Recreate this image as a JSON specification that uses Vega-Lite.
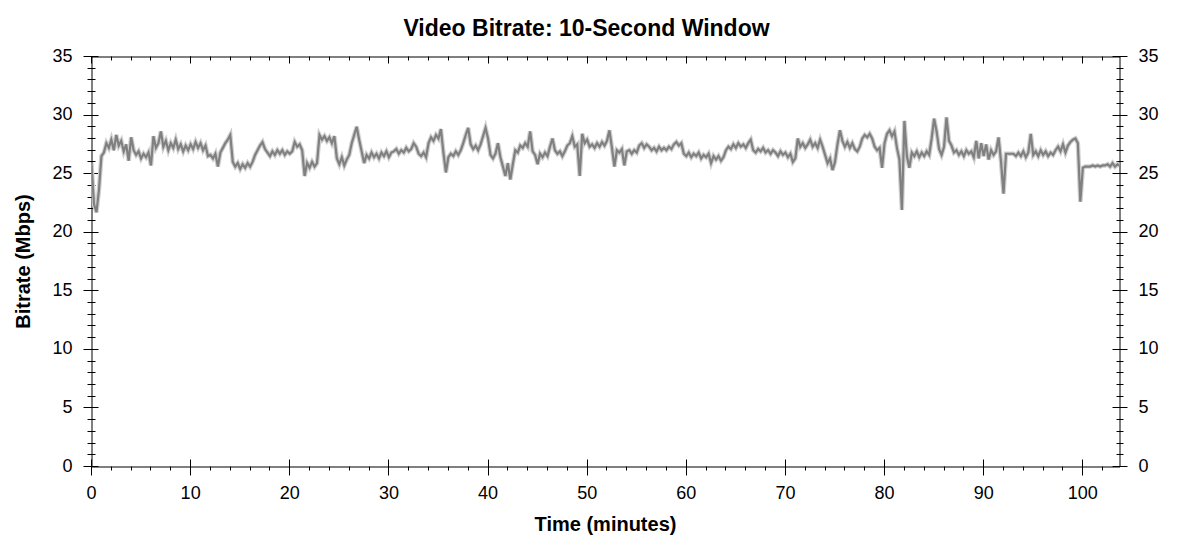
{
  "$schema": "https://vega.github.io/schema/vega-lite/v6.json",
  "width": 1028,
  "height": 410,
  "autosize": {"type": "none"},
  "padding": {"left": 91.5, "top": 56.5, "right": 58.5, "bottom": 85.5},
  "background": "white",
  "title": {
    "text": "Video Bitrate: 10-Second Window",
    "font": "Liberation Sans",
    "fontSize": 23,
    "fontWeight": "bold",
    "color": "#000000",
    "anchor": "middle",
    "frame": "bounds",
    "offset": 7
  },
  "config": {
    "view": {"stroke": "#000000", "strokeWidth": 1},
    "axis": {
      "domain": false,
      "grid": false,
      "translate": 0,
      "tickColor": "#000000",
      "tickWidth": 1,
      "labelColor": "#000000",
      "labelFont": "Liberation Sans",
      "labelFontSize": 18,
      "labelFlush": false,
      "titleFont": "Liberation Sans",
      "titleFontSize": 20,
      "titleFontWeight": "bold",
      "titleColor": "#000000"
    }
  },
  "data": {
    "values": [
      {"t":0,"v":25.9},{"t":0.25,"v":22.4},{"t":0.5,"v":21.7},{"t":0.75,"v":23.6},
      {"t":1,"v":26.5},{"t":1.25,"v":26.8},{"t":1.5,"v":27.6},{"t":1.75,"v":27.2},
      {"t":2,"v":27.9},{"t":2.25,"v":27.0},{"t":2.5,"v":28.3},{"t":2.75,"v":27.4},
      {"t":3,"v":27.8},{"t":3.25,"v":26.9},{"t":3.5,"v":27.5},{"t":3.75,"v":26.1},
      {"t":4,"v":28.1},{"t":4.25,"v":27.0},{"t":4.5,"v":26.6},{"t":4.75,"v":26.9},
      {"t":5,"v":26.3},{"t":5.25,"v":26.7},{"t":5.5,"v":26.4},{"t":5.75,"v":26.8},
      {"t":6,"v":25.7},{"t":6.25,"v":28.2},{"t":6.5,"v":27.2},{"t":6.75,"v":27.6},
      {"t":7,"v":28.6},{"t":7.25,"v":27.3},{"t":7.5,"v":27.8},{"t":7.75,"v":27.0},
      {"t":8,"v":27.6},{"t":8.25,"v":27.2},{"t":8.5,"v":27.9},{"t":8.75,"v":27.1},
      {"t":9,"v":27.5},{"t":9.25,"v":26.9},{"t":9.5,"v":27.4},{"t":9.75,"v":27.0},
      {"t":10,"v":27.5},{"t":10.25,"v":27.1},{"t":10.5,"v":27.7},{"t":10.75,"v":27.2},
      {"t":11,"v":27.6},{"t":11.25,"v":27.0},{"t":11.5,"v":27.4},{"t":11.75,"v":26.5},
      {"t":12,"v":26.6},{"t":12.25,"v":26.3},{"t":12.5,"v":26.7},{"t":12.75,"v":25.6},
      {"t":13,"v":26.8},{"t":13.25,"v":27.2},{"t":13.5,"v":27.6},{"t":13.75,"v":27.9},
      {"t":14,"v":28.3},{"t":14.25,"v":26.0},{"t":14.5,"v":25.6},{"t":14.75,"v":25.9},
      {"t":15,"v":25.4},{"t":15.25,"v":25.8},{"t":15.5,"v":25.5},{"t":15.75,"v":25.9},
      {"t":16,"v":25.6},{"t":16.25,"v":26.0},{"t":16.5,"v":26.6},{"t":16.75,"v":27.0},
      {"t":17,"v":27.4},{"t":17.25,"v":27.7},{"t":17.5,"v":27.1},{"t":17.75,"v":26.8},
      {"t":18,"v":26.5},{"t":18.25,"v":26.9},{"t":18.5,"v":26.6},{"t":18.75,"v":27.0},
      {"t":19,"v":26.7},{"t":19.25,"v":27.0},{"t":19.5,"v":26.6},{"t":19.75,"v":26.9},
      {"t":20,"v":26.7},{"t":20.25,"v":26.9},{"t":20.5,"v":27.7},{"t":20.75,"v":27.3},
      {"t":21,"v":27.5},{"t":21.25,"v":27.0},{"t":21.5,"v":24.8},{"t":21.75,"v":25.9},
      {"t":22,"v":25.5},{"t":22.25,"v":26.0},{"t":22.5,"v":25.6},{"t":22.75,"v":25.9},
      {"t":23,"v":28.3},{"t":23.25,"v":27.9},{"t":23.5,"v":28.2},{"t":23.75,"v":27.8},
      {"t":24,"v":28.1},{"t":24.25,"v":27.6},{"t":24.5,"v":28.2},{"t":24.75,"v":26.3},
      {"t":25,"v":25.8},{"t":25.25,"v":26.4},{"t":25.5,"v":25.7},{"t":25.75,"v":26.2},
      {"t":26,"v":26.6},{"t":26.25,"v":27.6},{"t":26.5,"v":28.3},{"t":26.75,"v":29.0},
      {"t":27,"v":27.9},{"t":27.25,"v":26.9},{"t":27.5,"v":25.9},{"t":27.75,"v":26.6},
      {"t":28,"v":26.3},{"t":28.25,"v":26.8},{"t":28.5,"v":26.4},{"t":28.75,"v":26.7},
      {"t":29,"v":26.3},{"t":29.25,"v":26.8},{"t":29.5,"v":26.5},{"t":29.75,"v":26.9},
      {"t":30,"v":26.4},{"t":30.25,"v":26.8},{"t":30.5,"v":26.9},{"t":30.75,"v":27.1},
      {"t":31,"v":26.7},{"t":31.25,"v":27.0},{"t":31.5,"v":26.8},{"t":31.75,"v":27.2},
      {"t":32,"v":26.9},{"t":32.25,"v":27.1},{"t":32.5,"v":27.6},{"t":32.75,"v":27.3},
      {"t":33,"v":26.7},{"t":33.25,"v":26.5},{"t":33.5,"v":26.8},{"t":33.75,"v":26.4},
      {"t":34,"v":27.6},{"t":34.25,"v":28.1},{"t":34.5,"v":27.8},{"t":34.75,"v":28.3},
      {"t":35,"v":28.0},{"t":35.25,"v":28.8},{"t":35.5,"v":26.8},{"t":35.75,"v":25.1},
      {"t":36,"v":26.4},{"t":36.25,"v":26.7},{"t":36.5,"v":26.5},{"t":36.75,"v":26.9},
      {"t":37,"v":26.6},{"t":37.25,"v":27.0},{"t":37.5,"v":27.6},{"t":37.75,"v":28.3},
      {"t":38,"v":28.9},{"t":38.25,"v":27.5},{"t":38.5,"v":27.1},{"t":38.75,"v":27.4},
      {"t":39,"v":27.0},{"t":39.25,"v":27.5},{"t":39.5,"v":28.2},{"t":39.75,"v":28.9},
      {"t":40,"v":28.0},{"t":40.25,"v":26.6},{"t":40.5,"v":26.3},{"t":40.75,"v":26.7},
      {"t":41,"v":27.6},{"t":41.25,"v":26.4},{"t":41.5,"v":25.6},{"t":41.75,"v":24.8},
      {"t":42,"v":25.9},{"t":42.25,"v":24.5},{"t":42.5,"v":25.8},{"t":42.75,"v":27.0},
      {"t":43,"v":26.8},{"t":43.25,"v":27.4},{"t":43.5,"v":27.2},{"t":43.75,"v":27.6},
      {"t":44,"v":27.3},{"t":44.25,"v":28.6},{"t":44.5,"v":26.9},{"t":44.75,"v":26.6},
      {"t":45,"v":25.8},{"t":45.25,"v":26.7},{"t":45.5,"v":26.4},{"t":45.75,"v":26.8},
      {"t":46,"v":26.5},{"t":46.25,"v":27.3},{"t":46.5,"v":28.0},{"t":46.75,"v":27.0},
      {"t":47,"v":26.7},{"t":47.25,"v":26.9},{"t":47.5,"v":26.5},{"t":47.75,"v":26.9},
      {"t":48,"v":27.4},{"t":48.25,"v":27.6},{"t":48.5,"v":28.2},{"t":48.75,"v":27.3},
      {"t":49,"v":27.5},{"t":49.25,"v":24.8},{"t":49.5,"v":28.4},{"t":49.75,"v":27.6},
      {"t":50,"v":27.9},{"t":50.25,"v":27.3},{"t":50.5,"v":27.5},{"t":50.75,"v":27.2},
      {"t":51,"v":27.6},{"t":51.25,"v":27.3},{"t":51.5,"v":27.7},{"t":51.75,"v":27.4},
      {"t":52,"v":27.8},{"t":52.25,"v":28.7},{"t":52.5,"v":27.2},{"t":52.75,"v":25.6},
      {"t":53,"v":27.0},{"t":53.25,"v":26.8},{"t":53.5,"v":27.1},{"t":53.75,"v":25.7},
      {"t":54,"v":26.9},{"t":54.25,"v":27.0},{"t":54.5,"v":26.7},{"t":54.75,"v":27.0},
      {"t":55,"v":26.8},{"t":55.25,"v":27.4},{"t":55.5,"v":27.6},{"t":55.75,"v":27.2},
      {"t":56,"v":27.5},{"t":56.25,"v":27.3},{"t":56.5,"v":27.0},{"t":56.75,"v":27.2},
      {"t":57,"v":26.9},{"t":57.25,"v":27.3},{"t":57.5,"v":27.0},{"t":57.75,"v":27.2},
      {"t":58,"v":27.0},{"t":58.25,"v":27.3},{"t":58.5,"v":27.1},{"t":58.75,"v":27.5},
      {"t":59,"v":27.7},{"t":59.25,"v":27.4},{"t":59.5,"v":27.6},{"t":59.75,"v":26.7},
      {"t":60,"v":26.5},{"t":60.25,"v":26.8},{"t":60.5,"v":26.4},{"t":60.75,"v":26.7},
      {"t":61,"v":26.5},{"t":61.25,"v":26.8},{"t":61.5,"v":26.3},{"t":61.75,"v":26.6},
      {"t":62,"v":26.4},{"t":62.25,"v":26.7},{"t":62.5,"v":25.9},{"t":62.75,"v":26.5},
      {"t":63,"v":26.2},{"t":63.25,"v":26.5},{"t":63.5,"v":26.1},{"t":63.75,"v":26.4},
      {"t":64,"v":27.0},{"t":64.25,"v":27.3},{"t":64.5,"v":27.1},{"t":64.75,"v":27.5},
      {"t":65,"v":27.2},{"t":65.25,"v":27.6},{"t":65.5,"v":27.3},{"t":65.75,"v":27.5},
      {"t":66,"v":27.2},{"t":66.25,"v":27.6},{"t":66.5,"v":27.9},{"t":66.75,"v":27.0},
      {"t":67,"v":26.8},{"t":67.25,"v":27.1},{"t":67.5,"v":26.9},{"t":67.75,"v":27.2},
      {"t":68,"v":26.8},{"t":68.25,"v":27.0},{"t":68.5,"v":26.7},{"t":68.75,"v":27.0},
      {"t":69,"v":26.8},{"t":69.25,"v":26.5},{"t":69.5,"v":26.9},{"t":69.75,"v":26.6},
      {"t":70,"v":26.8},{"t":70.25,"v":26.4},{"t":70.5,"v":26.7},{"t":70.75,"v":26.0},
      {"t":71,"v":26.3},{"t":71.25,"v":28.0},{"t":71.5,"v":27.3},{"t":71.75,"v":27.6},
      {"t":72,"v":27.2},{"t":72.25,"v":27.5},{"t":72.5,"v":27.9},{"t":72.75,"v":27.3},
      {"t":73,"v":27.6},{"t":73.25,"v":27.2},{"t":73.5,"v":27.9},{"t":73.75,"v":27.3},
      {"t":74,"v":26.6},{"t":74.25,"v":25.9},{"t":74.5,"v":26.3},{"t":74.75,"v":25.3},
      {"t":75,"v":26.0},{"t":75.25,"v":27.5},{"t":75.5,"v":28.7},{"t":75.75,"v":27.8},
      {"t":76,"v":27.3},{"t":76.25,"v":27.7},{"t":76.5,"v":27.2},{"t":76.75,"v":27.6},
      {"t":77,"v":27.1},{"t":77.25,"v":26.9},{"t":77.5,"v":27.3},{"t":77.75,"v":28.0},
      {"t":78,"v":28.3},{"t":78.25,"v":28.1},{"t":78.5,"v":28.4},{"t":78.75,"v":28.0},
      {"t":79,"v":27.3},{"t":79.25,"v":27.0},{"t":79.5,"v":27.2},{"t":79.75,"v":25.5},
      {"t":80,"v":27.6},{"t":80.25,"v":28.4},{"t":80.5,"v":28.7},{"t":80.75,"v":28.2},
      {"t":81,"v":28.6},{"t":81.25,"v":27.2},{"t":81.5,"v":26.2},{"t":81.75,"v":21.9},
      {"t":82,"v":29.5},{"t":82.25,"v":26.5},{"t":82.5,"v":25.5},{"t":82.75,"v":26.8},
      {"t":83,"v":26.5},{"t":83.25,"v":26.9},{"t":83.5,"v":26.4},{"t":83.75,"v":26.8},
      {"t":84,"v":26.5},{"t":84.25,"v":26.9},{"t":84.5,"v":26.6},{"t":84.75,"v":28.0},
      {"t":85,"v":29.7},{"t":85.25,"v":28.6},{"t":85.5,"v":27.1},{"t":85.75,"v":26.6},
      {"t":86,"v":27.3},{"t":86.25,"v":29.8},{"t":86.5,"v":27.8},{"t":86.75,"v":27.4},
      {"t":87,"v":26.8},{"t":87.25,"v":27.0},{"t":87.5,"v":26.6},{"t":87.75,"v":26.9},
      {"t":88,"v":26.5},{"t":88.25,"v":27.0},{"t":88.5,"v":26.7},{"t":88.75,"v":26.9},
      {"t":89,"v":26.4},{"t":89.25,"v":27.8},{"t":89.5,"v":26.3},{"t":89.75,"v":27.6},
      {"t":90,"v":26.5},{"t":90.25,"v":27.5},{"t":90.5,"v":26.2},{"t":90.75,"v":27.0},
      {"t":91,"v":26.6},{"t":91.25,"v":26.9},{"t":91.5,"v":28.1},{"t":91.75,"v":26.0},
      {"t":92,"v":23.3},{"t":92.25,"v":26.7},{"t":92.5,"v":26.7},{"t":92.75,"v":26.7},
      {"t":93,"v":26.7},{"t":93.25,"v":26.5},{"t":93.5,"v":26.8},{"t":93.75,"v":26.5},
      {"t":94,"v":26.9},{"t":94.25,"v":26.4},{"t":94.5,"v":26.8},{"t":94.75,"v":28.4},
      {"t":95,"v":26.6},{"t":95.25,"v":26.9},{"t":95.5,"v":26.5},{"t":95.75,"v":27.0},
      {"t":96,"v":26.6},{"t":96.25,"v":26.9},{"t":96.5,"v":26.5},{"t":96.75,"v":26.8},
      {"t":97,"v":26.6},{"t":97.25,"v":27.0},{"t":97.5,"v":27.3},{"t":97.75,"v":26.9},
      {"t":98,"v":27.5},{"t":98.25,"v":26.8},{"t":98.5,"v":27.4},{"t":98.75,"v":27.7},
      {"t":99,"v":27.9},{"t":99.25,"v":28.0},{"t":99.5,"v":27.6},{"t":99.75,"v":22.6},
      {"t":100,"v":25.5},{"t":100.25,"v":25.6},{"t":100.5,"v":25.6},{"t":100.75,"v":25.6},
      {"t":101,"v":25.7},{"t":101.25,"v":25.6},{"t":101.5,"v":25.7},{"t":101.75,"v":25.6},
      {"t":102,"v":25.7},{"t":102.25,"v":25.7},{"t":102.5,"v":25.8},{"t":102.75,"v":25.6},
      {"t":103,"v":25.9},{"t":103.25,"v":25.6},{"t":103.5,"v":25.8},{"t":103.7,"v":25.7}
    ]
  },
  "resolve": {"axis": {"x": "independent", "y": "independent"}},
  "layer": [
    {
      "mark": {"type": "line", "color": "#cfcfcf", "strokeWidth": 4.5, "clip": true},
      "encoding": {
        "x": {"field": "t", "type": "quantitative",
          "scale": {"domain": [0, 103.7], "nice": false, "zero": false},
          "axis": {"orient": "bottom", "values": [0,10,20,30,40,50,60,70,80,90,100],
            "offset": -7, "tickSize": 16, "labelPadding": 9, "format": "d",
            "title": "Time (minutes)", "titlePadding": 12}},
        "y": {"field": "v", "type": "quantitative",
          "scale": {"domain": [0, 35], "nice": false},
          "axis": {"orient": "left", "values": [0,5,10,15,20,25,30,35],
            "offset": -7, "tickSize": 15, "labelPadding": 11, "format": "d",
            "title": "Bitrate (Mbps)", "titlePadding": 18}}
      }
    },
    {
      "mark": {"type": "line", "color": "#808080", "strokeWidth": 2.2, "clip": true},
      "encoding": {
        "x": {"field": "t", "type": "quantitative",
          "scale": {"domain": [0, 103.7], "nice": false, "zero": false},
          "axis": {"orient": "top", "values": [0,10,20,30,40,50,60,70,80,90,100],
            "offset": -7, "tickSize": 7, "labels": false, "title": null}},
        "y": {"field": "v", "type": "quantitative",
          "scale": {"domain": [0, 35], "nice": false},
          "axis": {"orient": "right", "values": [0,5,10,15,20,25,30,35],
            "offset": -7, "tickSize": 15, "labelPadding": 11, "format": "d", "title": null}}
      }
    },
    {
      "mark": {"type": "line", "strokeOpacity": 0, "clip": true},
      "encoding": {
        "x": {"field": "t", "type": "quantitative",
          "scale": {"domain": [0, 103.7], "nice": false, "zero": false},
          "axis": {"orient": "bottom", "values": [0,2,4,6,8,10,12,14,16,18,20,22,24,26,28,30,32,34,36,38,40,42,44,46,48,50,52,54,56,58,60,62,64,66,68,70,72,74,76,78,80,82,84,86,88,90,92,94,96,98,100,102],
            "offset": 0, "tickSize": 4, "labels": false, "title": null}},
        "y": {"field": "v", "type": "quantitative",
          "scale": {"domain": [0, 35], "nice": false},
          "axis": {"orient": "left", "values": [0,1,2,3,4,5,6,7,8,9,10,11,12,13,14,15,16,17,18,19,20,21,22,23,24,25,26,27,28,29,30,31,32,33,34,35],
            "offset": -4, "tickSize": 8, "labels": false, "title": null}}
      }
    },
    {
      "mark": {"type": "line", "strokeOpacity": 0, "clip": true},
      "encoding": {
        "x": {"field": "t", "type": "quantitative",
          "scale": {"domain": [0, 103.7], "nice": false, "zero": false},
          "axis": {"orient": "top", "values": [0,2,4,6,8,10,12,14,16,18,20,22,24,26,28,30,32,34,36,38,40,42,44,46,48,50,52,54,56,58,60,62,64,66,68,70,72,74,76,78,80,82,84,86,88,90,92,94,96,98,100,102],
            "offset": -4, "tickSize": 4, "labels": false, "title": null}},
        "y": {"field": "v", "type": "quantitative",
          "scale": {"domain": [0, 35], "nice": false},
          "axis": {"orient": "right", "values": [0,1,2,3,4,5,6,7,8,9,10,11,12,13,14,15,16,17,18,19,20,21,22,23,24,25,26,27,28,29,30,31,32,33,34,35],
            "offset": -3, "tickSize": 7, "labels": false, "title": null}}
      }
    }
  ]
}
